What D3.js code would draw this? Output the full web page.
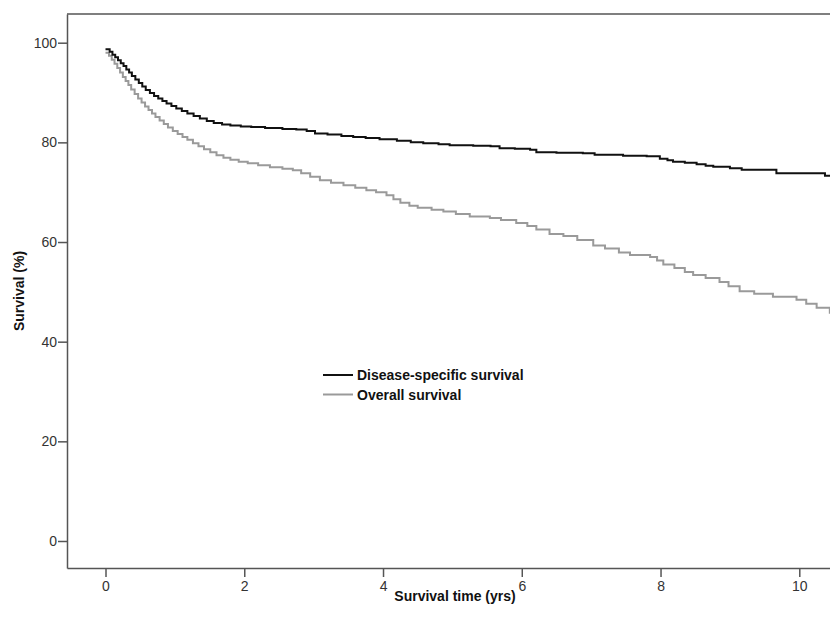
<!DOCTYPE html>
<html>
<head>
<meta charset="utf-8">
<script src="https://cdn.jsdelivr.net/npm/d3@7"></script>
<style>
  body { margin: 0; background: #fff; }
  svg { display: block; font-family: "Liberation Sans", Arial, sans-serif; }
</style>
</head>
<body>
<svg id="km" width="830" height="625"></svg>
<script>
// Kaplan-Meier estimates: [time (yrs), survival (%)]
var dssTimes = [0.0, 0.06, 0.1, 0.14, 0.18, 0.22, 0.26, 0.3, 0.34, 0.38, 0.43, 0.48, 0.53, 0.58, 0.64, 0.7, 0.76, 0.82, 0.88, 0.95,
                1.02, 1.1, 1.18, 1.27, 1.36, 1.46, 1.56, 1.68, 1.8, 1.95, 2.1, 2.3, 2.55, 2.75, 2.9, 3.02, 3.2, 3.4, 3.57, 3.75,
                3.95, 4.2, 4.4, 4.58, 4.8, 4.96, 5.3, 5.55, 5.68, 5.9, 6.12, 6.21, 6.5, 6.88, 7.05, 7.46, 7.8, 7.99, 8.1, 8.18,
                8.35, 8.52, 8.65, 8.76, 9.0, 9.17, 9.67, 10.37, 10.7];
var dssValues = [98.7, 98.2, 97.6, 97.1, 96.5, 95.9, 95.3, 94.6, 94.0, 93.3, 92.6, 91.9, 91.2, 90.5, 89.9, 89.3, 88.8, 88.3, 87.8, 87.3,
                 86.8, 86.3, 85.8, 85.3, 84.8, 84.3, 83.9, 83.6, 83.4, 83.2, 83.1, 82.9, 82.7, 82.6, 82.3, 81.8, 81.6, 81.3, 81.1, 80.9,
                 80.6, 80.3, 80.0, 79.8, 79.6, 79.4, 79.3, 79.2, 78.8, 78.7, 78.5, 78.0, 77.9, 77.8, 77.5, 77.3, 77.2, 76.7, 76.4, 76.1,
                 75.9, 75.6, 75.3, 75.1, 74.8, 74.5, 73.8, 73.3, 73.3];

var osTimes = [0.0, 0.05, 0.09, 0.13, 0.17, 0.21, 0.25, 0.29, 0.33, 0.37, 0.42, 0.47, 0.52, 0.57, 0.62, 0.67, 0.72, 0.78, 0.84, 0.9,
               0.97, 1.04, 1.11, 1.18, 1.26, 1.34, 1.42, 1.51, 1.6, 1.7, 1.8, 1.92, 2.05, 2.2, 2.37, 2.55, 2.7, 2.82, 2.95, 3.09,
               3.25, 3.43, 3.6, 3.76, 3.9, 4.05, 4.15, 4.25, 4.38, 4.5, 4.7, 4.87, 5.05, 5.25, 5.54, 5.7, 5.92, 6.08, 6.21, 6.4,
               6.6, 6.8, 7.03, 7.2, 7.4, 7.56, 7.85, 7.95, 8.04, 8.2, 8.35, 8.47, 8.65, 8.85, 8.98, 9.14, 9.35, 9.62, 9.96, 10.1,
               10.25, 10.44, 10.7];
var osValues = [98.0, 97.4, 96.6, 95.8, 94.9, 94.0, 93.1, 92.3, 91.5, 90.6, 89.7, 88.8, 88.0, 87.2, 86.5, 85.8, 85.1, 84.4, 83.7, 83.0,
                82.3, 81.7, 81.1, 80.5, 79.8, 79.2, 78.6, 78.0, 77.4, 76.9, 76.5, 76.1, 75.8, 75.4, 75.0, 74.7, 74.4, 73.8, 73.1, 72.4,
                71.9, 71.4, 70.9, 70.4, 70.0, 69.4, 68.6, 67.9, 67.3, 66.9, 66.5, 66.1, 65.6, 65.1, 64.8, 64.4, 63.8, 63.2, 62.5, 61.6,
                61.2, 60.4, 59.3, 58.7, 57.9, 57.4, 57.0, 56.3, 55.5, 54.8, 54.0, 53.4, 52.8, 52.0, 51.1, 50.1, 49.6, 49.0, 48.4, 47.6,
                46.8, 45.8, 45.8];

var xTicks = [0, 2, 4, 6, 8, 10];
var yTicks = [0, 20, 40, 60, 80, 100];
var seriesNames = ["Disease-specific survival", "Overall survival"];
var seriesColors = ["#111111", "#9a9a9a"];

var svg = d3.select("#km"),
    plotLeft = 67, plotTop = 14, plotRight = 843, plotBottom = 568;

var x = d3.scaleLinear().domain([-0.555, 10.63]).range([plotLeft, plotRight]);
var y = d3.scaleLinear().domain([-5.42, 105.76]).range([plotBottom, plotTop]);

var series = [
  d3.zip(dssTimes, dssValues),
  d3.zip(osTimes, osValues)
];

var line = d3.line()
    .curve(d3.curveStepAfter)
    .x(function(d) { return x(d[0]); })
    .y(function(d) { return y(d[1]); });

// grey curve first so the black one sits on top
[1, 0].forEach(function(i) {
  svg.append("path")
      .datum(series[i])
      .attr("fill", "none")
      .attr("stroke", seriesColors[i])
      .attr("stroke-width", 2)
      .attr("d", line);
});

// frame top line
svg.append("line")
    .attr("x1", plotLeft).attr("x2", plotRight)
    .attr("y1", plotTop).attr("y2", plotTop)
    .attr("stroke", "#555").attr("stroke-width", 1.5);

var xAxis = svg.append("g")
    .attr("transform", "translate(0," + plotBottom + ")")
    .call(d3.axisBottom(x).tickValues(xTicks).tickSize(9).tickPadding(4).tickSizeOuter(0));

var yAxis = svg.append("g")
    .attr("transform", "translate(" + plotLeft + ",0)")
    .call(d3.axisLeft(y).tickValues(yTicks).tickSize(9).tickPadding(1).tickSizeOuter(0));

[xAxis, yAxis].forEach(function(a) {
  a.attr("font-size", 14).attr("font-family", "'Liberation Sans', Arial, sans-serif");
  a.select(".domain").attr("stroke", "#555").attr("stroke-width", 1.5);
  a.selectAll(".tick line").attr("stroke", "#555").attr("stroke-width", 1.5);
  a.selectAll(".tick text").attr("fill", "#333");
});

svg.append("text")
    .attr("x", (plotLeft + plotRight) / 2)
    .attr("y", 601)
    .attr("text-anchor", "middle")
    .attr("font-size", "14px")
    .attr("font-weight", "bold")
    .attr("fill", "#111")
    .text("Survival time (yrs)");

svg.append("text")
    .attr("transform", "translate(24," + (plotTop + plotBottom) / 2 + ") rotate(-90)")
    .attr("text-anchor", "middle")
    .attr("font-size", "14px")
    .attr("font-weight", "bold")
    .attr("fill", "#111")
    .text("Survival (%)");

// legend
var legend = svg.append("g").attr("transform", "translate(323,375)");
seriesNames.forEach(function(name, i) {
  var row = legend.append("g").attr("transform", "translate(0," + (i * 19.5) + ")");
  row.append("line")
      .attr("x1", 0).attr("x2", 30)
      .attr("stroke", seriesColors[i])
      .attr("stroke-width", 2);
  row.append("text")
      .attr("x", 34)
      .attr("y", 5)
      .attr("font-size", "14px")
      .attr("font-weight", "bold")
      .attr("fill", "#111")
      .text(name);
});
</script>
</body>
</html>
